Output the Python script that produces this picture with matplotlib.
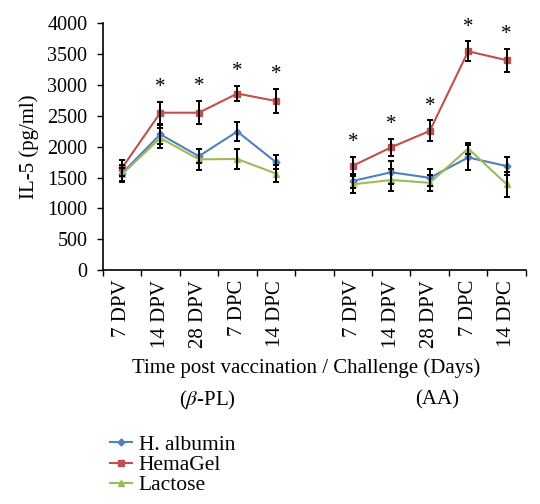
import matplotlib
matplotlib.use("Agg")
import matplotlib.pyplot as plt
import numpy as np

plt.rcParams['font.family'] = ['Liberation Serif', 'DejaVu Serif']
plt.rcParams['mathtext.fontset'] = 'stix'

# categories (two groups separated by an empty slot)
times = ['7 DPV', '14 DPV', '28 DPV', '7 DPC', '14 DPC']
groups = ['($\\beta$-PL)', '(AA)']

# IL-5 values (pg/ml): beta-PL group then AA group
albumin = [1565, 2200, 1845, 2245, 1750,   1445, 1585, 1495, 1825, 1685]
albumin_err = [135, 150, 110, 155, 110,   110, 190, 140, 195, 150]
hemagel = [1650, 2550, 2550, 2860, 2740,   1690, 1990, 2255, 3545, 3400]
hemagel_err = [130, 180, 190, 125, 200,   150, 140, 170, 160, 185]
lactose = [1550, 2140, 1795, 1800, 1565,   1390, 1460, 1415, 1970, 1390]
lactose_err = [100, 160, 170, 160, 145,   140, 180, 130, 90, 200]
# significance markers (above HemaGel)
signif = [False, True, True, True, True,   True, True, True, True, True]

series = [
    ('H. albumin', albumin, albumin_err, '#4F81BD', 'D', 3.5),
    ('HemaGel', hemagel, hemagel_err, '#C0504D', 's', 4.5),
    ('Lactose', lactose, lactose_err, '#9BBB59', '^', 5),
]

xpos = np.array([0, 1, 2, 3, 4, 6, 7, 8, 9, 10])

fig = plt.figure(figsize=(5.4, 5.04), dpi=100)
ax = fig.add_axes([0.19, 0.464, 0.784, 0.49])

handles = []
for name, vals, errs, col, mk, ms in series:
    vals = np.array(vals)
    errs = np.array(errs)
    for sl in (slice(0, 5), slice(5, 10)):
        ax.errorbar(xpos[sl], vals[sl], yerr=errs[sl], fmt='none', ecolor='black',
                    elinewidth=1.4, capsize=2.5, capthick=1.4, zorder=4)
        h, = ax.plot(xpos[sl], vals[sl], color=col, marker=mk, markersize=ms,
                     linewidth=1.5, zorder=3)
    handles.append((h, name))

for x, v, e, s in zip(xpos, hemagel, hemagel_err, signif):
    if s:
        ax.text(x, v + e + 230, '*', ha='center', va='center', fontsize=15)

ax.set_xlim(-0.5, 10.5)
ax.set_ylim(0, 4000)
ax.set_yticks(np.arange(0, 4001, 500))
ax.set_xticks(xpos)
ax.set_xticklabels(times + times, rotation=90, fontsize=15)
ax.set_xticks(np.arange(-0.5, 11, 1), minor=True)
ax.tick_params(axis='x', which='major', length=0, pad=7)
ax.tick_params(axis='x', which='minor', length=4, direction='out', width=1)
ax.tick_params(axis='y', length=4, direction='out', width=1, labelsize=14.5, pad=7)
ax.spines['top'].set_visible(False)
ax.spines['right'].set_visible(False)
ax.spines['left'].set_linewidth(1.2)
ax.spines['bottom'].set_linewidth(1.2)
ax.set_ylabel('IL-5 (pg/ml)', fontsize=15, labelpad=6)

fig.text(0.566, 0.27, 'Time post vaccination / Challenge (Days)', ha='center',
         va='center', fontsize=15)
fig.text(0.385, 0.206, groups[0], ha='center', va='center', fontsize=15)
fig.text(0.81, 0.206, groups[1], ha='center', va='center', fontsize=15)

fig.legend([h for h, _ in handles], [n for _, n in handles], loc='upper left',
           bbox_to_anchor=(0.204, 0.137), frameon=False, fontsize=15.5,
           handlelength=1.0, handletextpad=0.33, labelspacing=0.0, borderpad=0,
           borderaxespad=0)

fig.savefig('out.png', dpi=100)
